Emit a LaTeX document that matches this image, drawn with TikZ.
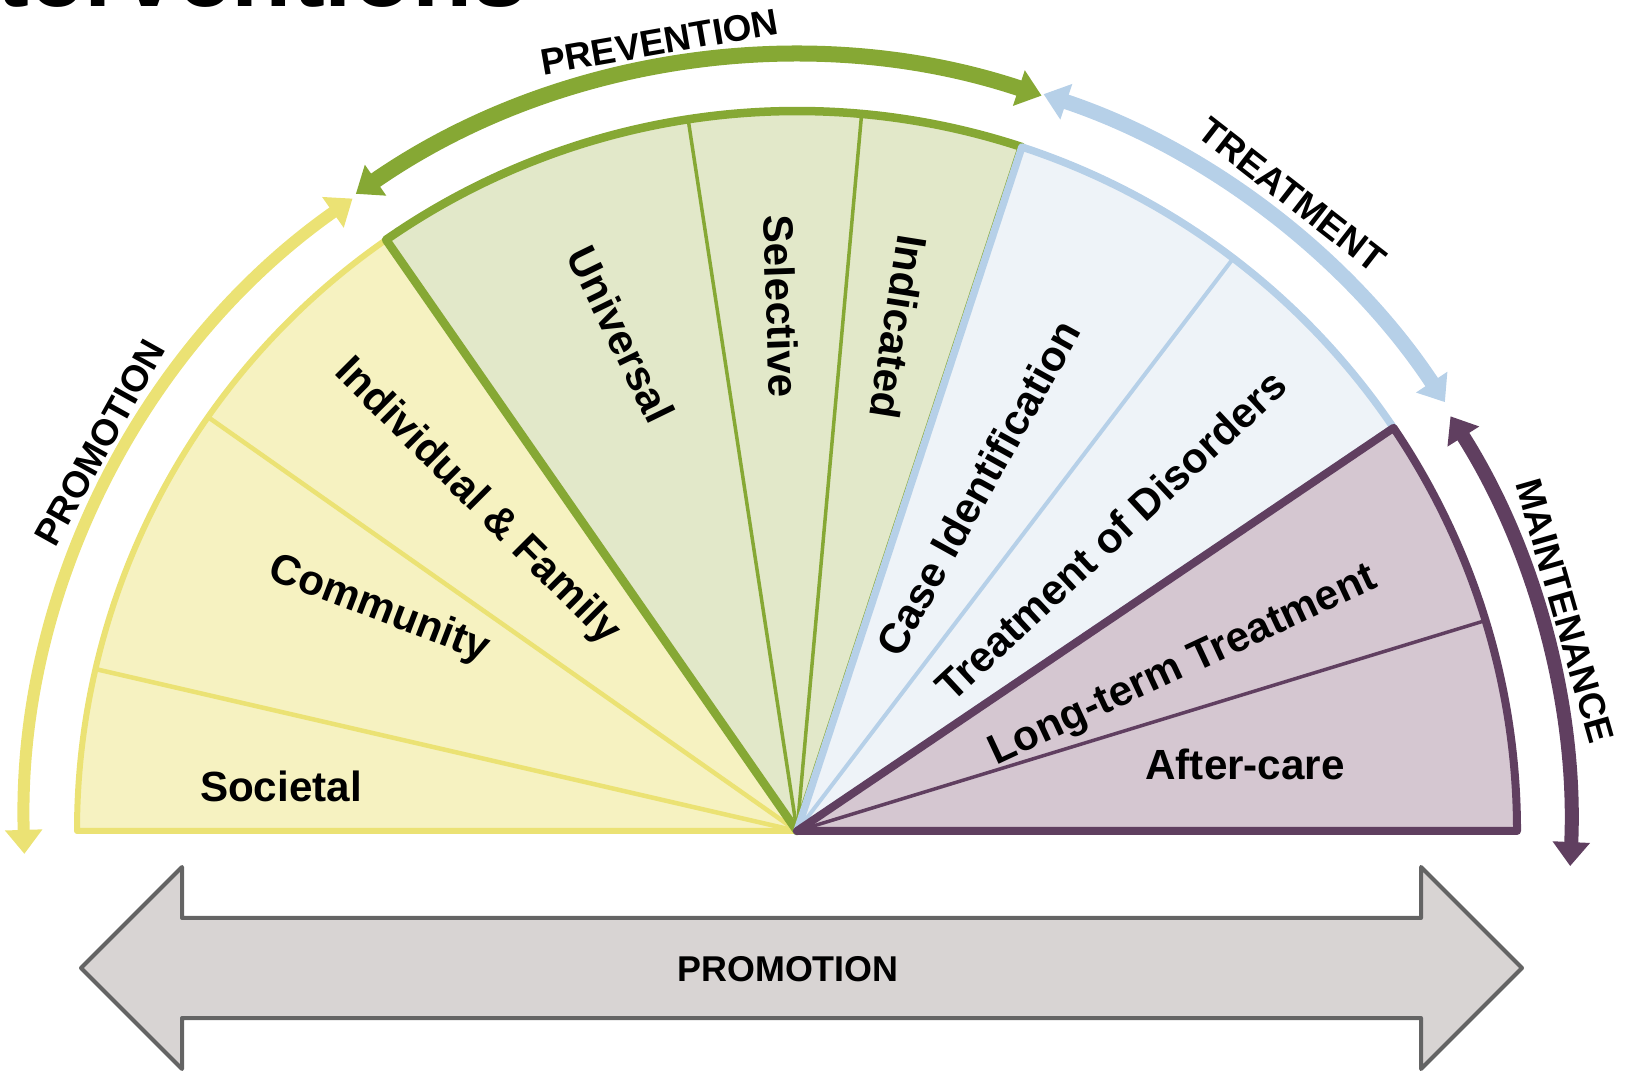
\documentclass[tikz,border=0pt]{standalone}
\usepackage{fontspec}
\setmainfont{Liberation Sans}
\usetikzlibrary{arrows.meta}

\definecolor{promoline}{HTML}{EBE274}
\definecolor{promofill}{HTML}{F6F2C1}
\definecolor{prevline}{HTML}{86A834}
\definecolor{prevfill}{HTML}{E2E8C9}
\definecolor{treatline}{HTML}{B6D0E8}
\definecolor{treatfill}{HTML}{EEF3F8}
\definecolor{maintline}{HTML}{603F60}
\definecolor{maintfill}{HTML}{D5C7D1}
\definecolor{barline}{HTML}{646464}
\definecolor{barfill}{HTML}{D8D4D3}

\begin{document}
\begin{tikzpicture}[x=0.01cm, y=0.01cm, line join=round,
    seglabel/.style={font=\bfseries\fontsize{12}{14}\selectfont},
    arclabel/.style={font=\bfseries\fontsize{10.5}{12}\selectfont},
    band/.style={line width=#1, {Triangle[width=0.36cm,length=0.24cm]}-{Triangle[width=0.36cm,length=0.24cm]}}]
   \useasboundingbox (0,0) rectangle (1628,1070);
   \clip (0,0) rectangle (1628,1070);
   \coordinate (C) at (797,239);

   \node[anchor=base east, inner sep=0pt, font=\bfseries\fontsize{28}{32}\selectfont] (title) at (528,1063) {Interventions};

   % sectors
   \filldraw[fill=promofill, draw=promoline, line width=0.06cm]
     (C) -- ++(180:720) arc[start angle=180, end angle=124.8, radius=720] -- cycle;
   \foreach \a in {167, 144.9}
     \draw[promoline, line width=0.045cm] (C) -- ++(\a:720);
   \filldraw[fill=prevfill, draw=prevline, line width=0.085cm]
     (C) -- ++(124.8:720) arc[start angle=124.8, end angle=71.8, radius=720] -- cycle;
   \foreach \a in {98.7, 84.85}
     \draw[prevline, line width=0.035cm] (C) -- ++(\a:720);
   \filldraw[fill=treatfill, draw=treatline, line width=0.075cm]
     (C) -- ++(71.8:720) arc[start angle=71.8, end angle=34.05, radius=720] -- cycle;
   \draw[treatline, line width=0.04cm] (C) -- ++(52.7:720);
   \filldraw[fill=maintfill, draw=maintline, line width=0.08cm]
     (C) -- ++(34.05:720) arc[start angle=34.05, end angle=0, radius=720] -- cycle;
   \draw[maintline, line width=0.035cm] (C) -- ++(17:720);

   % outer arrows
   \draw[band=0.12cm, promoline] ([shift={(125.1:773)}]C) arc[start angle=125.1, end angle=181.7, radius=773];
   \draw[band=0.16cm, prevline] ([shift={(124.7:775)}]C) arc[start angle=124.7, end angle=71.6, radius=775];
   \draw[band=0.15cm, treatline] ([shift={(71.5:777)}]C) arc[start angle=71.5, end angle=33.5, radius=777];
   \draw[band=0.14cm, maintline] ([shift={(32.4:774)}]C) arc[start angle=32.4, end angle=-2.6, radius=774];

   \node[arclabel, rotate=60.9] (promotion) at ([shift={(150.9:798)}]C) {PROMOTION};
   \node[arclabel, rotate=9.9] (prevention) at ([shift={(99.9:801)}]C) {PREVENTION};
   \node[arclabel, rotate=-37.9] (treatment) at ([shift={(52.1:806)}]C) {TREATMENT};
   \node[arclabel, rotate=-74] (maintenance) at ([shift={(16:799)}]C) {MAINTENANCE};

   % sector labels
   \node[seglabel] (societal) at ([shift={(175.1:518)}]C) {Societal};
   \node[seglabel, rotate=-21] (community) at ([shift={(152.1:473)}]C) {Community};
   \node[seglabel, rotate=-45] (family) at ([shift={(134.2:459)}]C) {Individual \& Family};
   \node[seglabel, rotate=-64] (universal) at ([shift={(109.5:527)}]C) {Universal};
   \node[seglabel, rotate=-88] (selective) at ([shift={(91.7:525)}]C) {Selective};
   \node[seglabel, rotate=-99] (indicated) at ([shift={(78.6:514)}]C) {Indicated};
   \node[seglabel, rotate=61] (caseid) at ([shift={(62.2:388)}]C) {Case Identification};
   \node[seglabel, rotate=43] (disorders) at ([shift={(43.3:431)}]C) {Treatment of Disorders};
   \node[seglabel, rotate=25] (longterm) at ([shift={(23:420)}]C) {Long-term Treatment};
   \node[seglabel] (aftercare) at ([shift={(8.4:453)}]C) {After-care};

   % bottom arrow
   \filldraw[fill=barfill, draw=barline, line width=0.04cm]
     (81,102) -- (182,203) -- (182,152) -- (1421,152) -- (1421,203) -- (1522,102)
     -- (1421,1) -- (1421,52) -- (182,52) -- (182,1) -- cycle;
   \node[font=\bfseries\fontsize{10.2}{12}\selectfont] (promobar) at (788,101) {PROMOTION};
\end{tikzpicture}
\end{document}
